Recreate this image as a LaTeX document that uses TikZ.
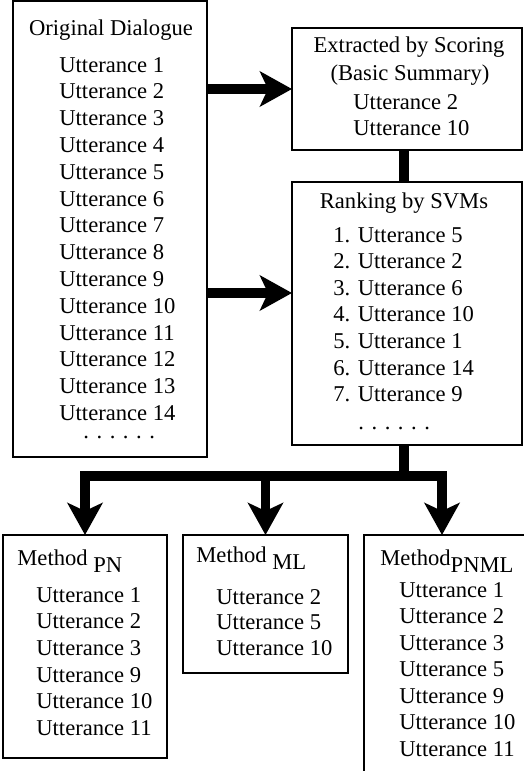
\documentclass[tikz,border=0pt]{standalone}
\usepackage{fontspec}
\setmainfont{Liberation Serif}
\usetikzlibrary{arrows.meta, positioning, calc}

\tikzset{
  box/.style={draw, line width=0.9pt, anchor=north west, inner sep=0pt, outer sep=0pt},
  txt/.style={inner sep=0pt, font=\fontsize{11.3}{13.4}\selectfont},
  link/.style={line width=4.8pt},
  flow/.style={link, -{Stealth[length=16pt, width=17.5pt, inset=4pt]}},
}

\begin{document}
\begin{tikzpicture}[x=0.5pt, y=-0.5pt]
  \useasboundingbox (0,0) rectangle (524,771);

  % Boxes
  \node[box, minimum width=97pt, minimum height=228pt] (od) at (13,1) {};
  \node[box, minimum width=115pt, minimum height=61pt] (ext) at (292,28) {};
  \node[box, minimum width=115pt, minimum height=131.5pt] (rank) at (292,182) {};
  \node[box, minimum width=82pt, minimum height=111.5pt] (pn) at (3,535) {};
  \node[box, minimum width=82.5pt, minimum height=69pt] (ml) at (183,535) {};
  \node[box, minimum width=100pt, minimum height=140pt] (pnml) at (364,535) {};

  % Original dialogue
  \node[txt, anchor=base] (odtitle) at (111,35) {Original Dialogue};
  \foreach \n in {1,...,14}
    \node[txt, anchor=base west] (odu\n) at (59, {72+26.8*(\n-1)}) {Utterance \n};
  \node[txt, anchor=base west] (oddots) at (83,438) {. . . . . .};

  % Basic summary
  \node[txt, anchor=base] (exttitle) at (409,53) {Extracted by Scoring};
  \node[txt, anchor=base] (extsub) at (410,80) {(Basic Summary)};
  \node[txt, anchor=base west] (extu1) at (353,109) {Utterance 2};
  \node[txt, anchor=base west] (extu2) at (353,135.5) {Utterance 10};

  % Ranking
  \node[txt, anchor=base] (ranktitle) at (404,208) {Ranking by SVMs};
  \foreach \u [count=\i] in {5,2,6,10,1,14,9}
    \node[txt, anchor=base west] (ranku\i) at (333, {242+26.6*(\i-1)}) {\i. Utterance \u};
  \node[txt, anchor=base west] (rankdots) at (358,429) {. . . . . .};

  % Methods
  \node[txt, anchor=base west] (pntitle) at (17,565) {Method \raisebox{-3.5pt}{PN}};
  \foreach \u [count=\i] in {1,2,3,9,10,11}
    \node[txt, anchor=base west] (pnu\i) at (36, {602+26.7*(\i-1)}) {Utterance \u};
  \node[txt, anchor=base west] (mltitle) at (196,562) {Method \raisebox{-3.5pt}{ML}};
  \foreach \u [count=\i] in {2,5,10}
    \node[txt, anchor=base west] (mlu\i) at (216, {604+25.5*(\i-1)}) {Utterance \u};
  \node[txt, anchor=base west] (pnmltitle) at (380,565) {Method\raisebox{-3.5pt}{PNML}};
  \foreach \u [count=\i] in {1,2,3,5,9,10,11}
    \node[txt, anchor=base west] (pnmlu\i) at (399, {597+26.5*(\i-1)}) {Utterance \u};

  % Arrows
  \coordinate (rankin) at (rank.west |- 0,293);
  \draw[flow] (od.east |- ext.west) -- (ext.west);
  \draw[flow] (od.east |- rankin) -- (rankin);
  \draw[link] ([xshift=-1.5pt]ext.south) -- ([xshift=-1.5pt]rank.north);

  % Fork to the methods
  \coordinate (fork) at ([xshift=-1.5pt]rank.south |- 0,476);
  \coordinate (pnmlin) at ([xshift=39pt]pnml.north west);
  \draw[link] ([xshift=-1.5pt]rank.south) -- (fork);
  \draw[link, line cap=rect] (pn.north |- fork) -- (pnmlin |- fork);
  \draw[flow] (pn.north |- fork) -- (pn.north);
  \draw[flow] (ml.north |- fork) -- (ml.north);
  \draw[flow] (pnmlin |- fork) -- (pnmlin);
\end{tikzpicture}
\end{document}
